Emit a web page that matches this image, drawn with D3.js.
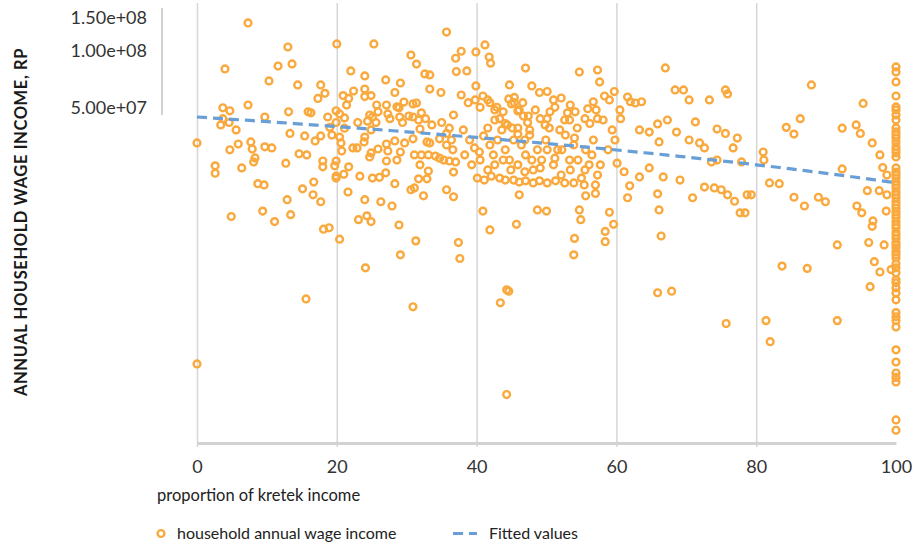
<!DOCTYPE html>
<html>
<head>
<meta charset="utf-8">
<script src="https://cdn.jsdelivr.net/npm/d3@7"></script>
<style>
  body { margin: 0; background: #fff; }
  svg { display: block; font-family: Lato, "Open Sans", sans-serif; }
</style>
</head>
<body>
<svg id="chart" width="917" height="548"></svg>
<script>
// Households with a partial kretek share: share of income (%) and annual wage income (million Rp)
const kretekShare = [
  0,0,2.6,2.6,3.7,4.7,3.7,3.4,4.6,5.6,
  7.3,4.7,5.9,7.7,7.9,6.4,8.3,8.1,9.7,9.7,
  10.7,13.1,13.3,12.7,8.7,9.6,4.9,9.4,11.1,12.9,
  13.4,14.6,15.7,15.4,16.9,17.7,15.9,16.3,17.3,18.3,
  16.7,15.1,16.6,17.7,18.1,18.9,20.4,18.0,18.0,19.9,
  19.7,19.9,19.9,21.0,21.7,21.6,23.3,24.0,23.1,24.3,
  24.9,24.1,26.3,27.9,28.9,29.1,31.3,28.3,27.0,26.1,
  25.1,25.9,27.3,27.1,28.6,29.1,27.1,28.3,29.7,30.9,
  31.9,33.1,31.7,32.9,30.6,31.1,32.4,35.7,36.7,36.7,
  37.4,37.6,31.1,32.1,33.1,34.1,34.7,35.3,36.1,36.6,
  37.0,32.9,33.3,34.7,35.7,36.4,35.7,36.1,36.7,35.0,
  33.6,32.7,31.9,32.1,31.7,30.9,30.3,29.4,29.0,31.4,
  30.9,28.9,28.6,27.6,27.3,27.1,28.3,25.7,25.9,25.6,
  25.1,24.7,24.4,24.9,23.0,24.0,23.9,22.9,22.3,24.9,
  24.7,21.4,21.1,20.9,21.7,22.4,24.0,24.9,19.9,20.4,
  18.7,19.9,19.0,19.3,20.4,21.1,20.6,20.7,
  7.3,4.0,13.0,11.6,13.6,10.3,14.4,17.7,20.0,22.0,
  25.3,24.0,27.0,29.1,31.4,30.6,32.6,33.3,35.7,37.0,
  37.1,34.9,29.6,33.3,24.0,15.6,30.9,
  37.8,39.9,41.2,41.8,38.6,42.0,39.9,37.8,38.8,40.5,
  41.6,42.6,43.3,45.0,45.4,46.1,46.7,47.0,47.9,49.0,
  44.7,38.1,39.0,39.7,40.4,41.0,41.6,41.9,42.4,43.0,
  43.6,44.1,44.7,45.3,45.9,46.4,47.0,47.6,48.1,48.7,
  49.3,49.9,50.4,51.0,51.6,52.1,52.7,53.3,53.9,54.4,
  55.0,55.6,56.1,56.7,57.3,40.1,41.1,42.1,43.3,44.1,
  45.3,46.1,47.0,48.1,49.0,50.1,51.3,52.6,53.9,55.4,
  57.0,42.6,44.4,47.3,50.1,53.0,55.9,57.3,54.7,57.3,
  57.6,58.3,59.0,56.7,51.0,52.1,50.1,53.3,54.0,41.9,
  40.9,45.7,48.7,50.0,46.1,53.9,54.0,54.7,54.9,55.6,
  57.0,58.4,58.4,59.0,59.6,44.3,43.4,44.6,44.3,
  39.8,40.9,41.9,42.9,43.8,44.6,45.4,45.9,46.6,47.4,
  44.1,45.1,45.9,46.9,47.6,48.4,49.1,49.8,50.5,51.2,
  51.9,52.6,53.4,54.1,55.5,56.2,57.1,58.1,59.4,60.5,
  38.3,39.3,40.5,41.6,42.6,43.8,44.9,45.9,46.9,47.9,
  49.1,50.1,51.2,52.2,53.4,54.5,55.5,56.5,57.7,58.8,
  59.8,
  59.7,60.6,61.6,62.0,62.7,63.6,65.9,67.0,67.3,68.4,
  69.6,70.4,71.3,63.3,64.7,66.1,68.6,70.4,60.1,61.1,
  61.9,63.3,64.7,66.7,65.9,66.1,66.4,65.9,67.9,69.1,
  70.9,61.6,73.3,75.6,75.9,74.4,75.6,77.3,76.7,77.9,
  71.9,72.6,73.6,74.4,72.6,74.0,75.0,75.9,76.9,77.7,
  78.4,78.7,79.3,75.7,81.0,81.1,81.9,81.4,82.0,
  87.9,95.3,86.3,84.3,85.4,92.3,94.3,94.9,96.6,97.7,
  92.3,98.1,98.7,83.3,95.9,97.6,98.7,85.4,86.9,88.9,
  89.9,94.4,95.1,98.6,96.7,96.6,91.6,96.1,98.3,83.7,
  87.3,96.9,97.7,96.3,91.6,99.3
];
const wageIncome = [
  32.4,2.18,24.5,22.4,49.8,48.0,43.6,40.4,41.6,38.0,
  51.5,29.8,32.0,32.8,30.1,23.9,27.0,25.7,44.5,30.9,
  30.5,47.4,36.4,25.3,19.7,19.4,13.2,14.1,12.4,16.2,
  13.5,28.4,28.0,35.3,33.2,35.3,47.4,46.8,55.8,59.4,
  20.1,18.5,17.2,15.8,11.3,11.5,10.0,26.0,24.2,26.0,
  24.5,21.6,21.1,22.1,24.2,17.8,21.6,16.2,12.7,13.3,
  12.4,7.05,15.8,15.0,11.9,8.26,9.8,19.7,22.5,21.3,
  21.1,30.1,29.4,26.0,26.3,29.0,32.0,33.2,32.4,34.1,
  24.8,23.0,20.9,20.9,18.3,18.7,17.0,18.3,16.8,22.7,
  9.6,7.9,28.0,28.0,28.0,27.6,26.9,26.3,26.0,29.8,
  25.7,32.8,32.4,34.1,31.6,33.6,36.4,38.8,45.6,41.6,
  40.4,43.6,38.4,46.8,42.9,44.5,45.0,41.6,44.5,52.8,
  52.2,49.8,50.4,43.6,46.2,51.5,60.0,51.5,47.4,41.6,
  44.5,45.6,42.3,38.0,41.6,34.8,32.8,30.5,30.5,28.7,
  27.3,51.5,44.0,57.8,55.8,61.1,57.1,57.8,48.0,46.2,
  44.5,41.6,39.2,35.7,34.8,38.8,32.4,29.4,
  140.3,80.0,104.6,82.9,85.1,69.1,65.8,65.8,108.6,78.1,
  108.6,73.5,70.0,67.4,84.9,94.9,75.3,74.4,125.6,91.2,
  77.5,60.0,53.4,62.6,62.6,4.82,4.38,
  99.3,98.5,107.3,92.6,78.1,85.9,65.0,58.2,53.0,50.1,
  54.8,48.5,43.6,52.2,56.5,48.5,45.0,80.9,65.0,60.0,
  65.8,38.0,33.6,30.5,29.0,35.3,38.9,31.6,28.0,33.6,
  38.0,29.8,26.3,33.6,38.9,31.6,28.0,35.7,23.3,29.8,
  26.3,33.6,38.9,24.8,29.8,21.9,35.7,26.3,31.6,38.9,
  21.1,29.8,24.8,33.6,21.9,21.1,20.6,21.6,21.1,20.6,
  20.6,20.1,20.4,19.9,20.4,19.9,20.4,19.9,19.9,19.4,
  19.4,42.9,40.4,41.6,43.6,46.8,49.2,43.6,77.1,79.0,
  68.3,57.5,54.8,53.6,54.8,56.1,60.7,42.9,34.4,11.2,
  14.1,12.0,14.3,14.1,17.2,8.26,10.1,14.3,12.7,17.0,
  17.5,11.0,9.7,13.9,12.0,5.39,4.6,5.3,1.5,
  54.8,57.5,53.0,50.1,47.4,55.5,53.0,47.9,53.0,45.0,
  41.1,38.9,36.1,33.6,38.0,48.5,43.6,40.4,47.4,50.1,
  38.0,42.9,51.5,47.4,43.6,41.1,48.5,42.9,38.0,48.5,
  28.0,24.8,26.3,23.3,24.8,26.3,23.3,24.8,22.8,26.3,
  23.9,29.8,26.9,29.8,23.3,26.3,23.3,28.0,24.8,29.8,
  33.6,
  60.7,43.6,56.8,53.6,52.8,53.6,40.9,81.0,42.9,61.9,
  61.9,54.8,41.9,38.0,37.0,32.8,37.0,33.6,25.3,22.8,
  19.2,21.4,23.9,21.4,17.4,14.3,10.4,5.2,5.3,20.6,
  16.6,16.6,54.8,61.9,59.0,38.4,36.4,34.4,30.5,25.7,
  32.4,30.5,25.7,26.3,18.9,18.7,18.3,17.2,15.9,13.8,
  13.8,17.2,17.2,3.57,29.0,26.3,19.9,3.70,2.86,
  65.8,52.5,43.6,39.2,36.1,38.8,40.4,36.4,32.4,28.0,
  23.6,24.0,21.9,19.7,18.1,18.1,17.2,16.7,15.0,16.7,
  15.8,15.0,13.8,14.1,12.5,11.7,9.33,9.6,9.33,7.2,
  7.0,7.6,6.7,5.6,3.7,6.9
];
// Households earning all of their income from kretek (share = 100%), million Rp
const fullKretekIncome = [
  82.0,77.2,68.3,57.5,50.3,48.5,45.6,42.9,38.9,37.1,
  35.7,34.4,32.8,30.9,29.8,28.7,27.3,23.9,22.7,21.9,
  21.1,20.1,19.4,18.7,17.8,17.2,16.6,15.8,15.2,14.6,
  14.0,13.5,13.0,12.4,11.9,11.5,10.9,10.5,10.1,9.6,
  9.33,9.0,8.57,8.26,7.96,7.4,7.05,6.64,6.09,5.87,
  5.52,5.19,4.77,4.08,3.88,3.7,3.42,2.59,2.23,1.95,
  1.85,1.75,1.10,0.97
];
// Linear fit of wage income on kretek share (end points, million Rp)
const fittedShare = [0, 100];
const fittedIncome = [44.5, 19.9];

const xTicks = [0, 20, 40, 60, 80, 100];
const xGridTicks = [0, 20, 40, 60, 80];
const yTicks = [5e7, 1e8, 1.5e8];

const MILLION = 1e6;
const orange = "#F9A93D";
const blue = "#6A9ED6";
const axisGrey = "#d2d2d2";

const points = kretekShare.map((s, i) => ({ share: s, income: wageIncome[i] * MILLION }))
  .concat(fullKretekIncome.map(v => ({ share: 100, income: v * MILLION })));

const svg = d3.select("#chart");
const x = d3.scaleLinear().domain([0, 100]).range([197, 896]);
const y = d3.scaleLog().domain([8.3e5, 1.5e8]).range([443, 17.5]);

// Stata-style exponent labels, e.g. 5.00e+07
const sciFormat = v => {
  const [mant, exp] = v.toExponential(2).split("e");
  return mant + "e" + exp[0] + exp.slice(1).padStart(2, "0");
};

// vertical grid lines
const grid = svg.append("g")
  .attr("transform", "translate(0,447)")
  .call(d3.axisBottom(x).tickValues(xGridTicks).tickSize(-444).tickFormat(""));
grid.select(".domain").remove();
grid.selectAll(".tick line").attr("stroke", "#d6d6d6").attr("stroke-width", 1.5);

// x axis
const xAxis = svg.append("g")
  .attr("transform", "translate(0,443)")
  .call(d3.axisBottom(x).tickValues(xTicks).tickSize(0).tickPadding(17));
xAxis.select(".domain").attr("stroke", axisGrey).attr("stroke-width", 3);
xAxis.selectAll(".tick text")
  .attr("fill", "#333").style("font-size", "18px").style("font-family", "Lato, sans-serif");

// y axis
const yAxis = svg.append("g")
  .attr("transform", "translate(162,0)")
  .call(d3.axisLeft(y).tickValues(yTicks).tickFormat(sciFormat).tickSize(0).tickPadding(15));
yAxis.select(".domain").remove();
yAxis.append("line")
  .attr("x1", 0).attr("x2", 0)
  .attr("y1", y(d3.max(yTicks)) - 9.5).attr("y2", y(d3.min(yTicks)) + 7.5)
  .attr("stroke", axisGrey).attr("stroke-width", 2);
yAxis.selectAll(".tick text")
  .attr("fill", "#333").style("font-size", "18px").style("font-family", "Lato, sans-serif");

// scatter
svg.append("g")
  .selectAll("circle")
  .data(points)
  .join("circle")
  .attr("cx", d => x(d.share))
  .attr("cy", d => y(d.income))
  .attr("r", 3.4)
  .attr("fill", "none")
  .attr("stroke", orange)
  .attr("stroke-width", 2.4);

// fitted values: a straight line in data units, drawn on the log axis
const interpShare = d3.interpolateNumber(fittedShare[0], fittedShare[1]);
const interpIncome = d3.interpolateNumber(fittedIncome[0], fittedIncome[1]);
const fitPts = d3.range(0, 1.0001, 0.01).map(t => [interpShare(t), interpIncome(t) * MILLION]);
svg.append("path")
  .datum(fitPts)
  .attr("fill", "none")
  .attr("stroke", blue)
  .attr("stroke-width", 3.2)
  .attr("stroke-dasharray", "10,6")
  .attr("d", d3.line().x(d => x(d[0])).y(d => y(d[1])));

// axis titles
svg.append("text")
  .attr("transform", "translate(27,222) rotate(-90)")
  .attr("text-anchor", "middle")
  .attr("fill", "#1a1a1a")
  .style("font-size", "16.5px")
  .style("font-weight", "bold")
  .style("letter-spacing", "0.6px")
  .text("ANNUAL HOUSEHOLD WAGE INCOME, RP");

svg.append("text")
  .attr("x", 157).attr("y", 501)
  .attr("fill", "#222")
  .style("font-size", "16.5px")
  .text("proportion of kretek income");

// legend
const legend = svg.append("g");
legend.append("circle")
  .attr("cx", 161).attr("cy", 533.5).attr("r", 3.4)
  .attr("fill", "none").attr("stroke", orange).attr("stroke-width", 2.4);
legend.append("text")
  .attr("x", 177).attr("y", 539)
  .attr("fill", "#222").style("font-size", "16px")
  .text("household annual wage income");
legend.append("line")
  .attr("x1", 453).attr("x2", 477).attr("y1", 533.5).attr("y2", 533.5)
  .attr("stroke", blue).attr("stroke-width", 3.2).attr("stroke-dasharray", "10,6");
legend.append("text")
  .attr("x", 489).attr("y", 539)
  .attr("fill", "#222").style("font-size", "16px")
  .text("Fitted values");
</script>
</body>
</html>
